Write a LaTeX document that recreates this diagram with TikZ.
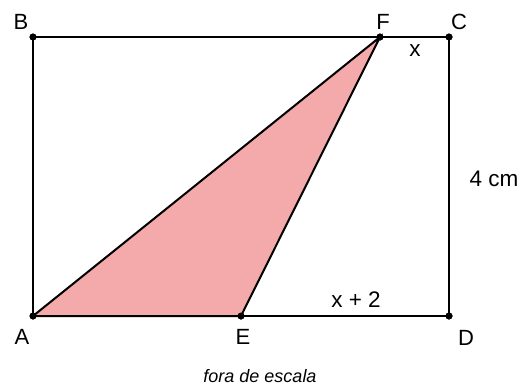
\documentclass[tikz,border=0pt]{standalone}
\usepackage{fontspec}
\setmainfont{Liberation Sans}
\usetikzlibrary{positioning}
\definecolor{trianglecolor}{RGB}{244, 169, 171}
\definecolor{linecolor}{RGB}{0, 0, 0}
\tikzset{
pointdot/.style={
  circle,
  fill=linecolor,
  inner sep=0pt,
  minimum size=7pt
},
pointlabel/.style={
  font=\fontsize{22}{22}\selectfont,
  text=linecolor,
  inner sep=0pt
},
sidelabel/.style={
  font=\fontsize{22.5}{22.5}\selectfont,
  text=linecolor,
  inner sep=0pt
},
rectside/.style={
  draw=linecolor,
  line width=1.6pt
},
triangleside/.style={
  draw=linecolor,
  line width=2pt,
  fill=trianglecolor
}
}
\begin{document}
\begin{tikzpicture}[x=1pt, y=-1pt]
  \useasboundingbox (0,0) rectangle (528,388);

  % Corner points
  \node[pointdot] (A) at (33,316) {};
  \node[pointdot] (B) at (33,37) {};
  \node[pointdot] (C) at (449,37) {};
  \node[pointdot] (D) at (449,316) {};
  \node[pointdot] (E) at (241,316) {};
  \node[pointdot] (F) at (380,37) {};

  % Shaded triangle
  \draw[triangleside] (A.center) -- (E.center) -- (F.center) -- cycle;

  % Rectangle
  \draw[rectside] (A.center) -- (B.center) -- (C.center) -- (D.center) -- (E.center);

  % Dots on top
  \foreach \p in {A,B,C,D,E,F} {
    \fill[linecolor] (\p) circle (3.5pt);
  }

  % Point labels
  \node[pointlabel] (labA) at (22,337) {A};
  \node[pointlabel] (labB) at (21,22) {B};
  \node[pointlabel] (labC) at (459,22) {C};
  \node[pointlabel] (labD) at (466,338) {D};
  \node[pointlabel] (labE) at (243,337) {E};
  \node[pointlabel] (labF) at (383,22) {F};

  % Measures
  \node[sidelabel] (lenx) at (415,51) {x};
  \node[sidelabel] (lenCD) at (494,179) {4 cm};
  \node[sidelabel] (lenED) at (356,300) {x + 2};

  % Note
  \node[font=\fontsize{18}{18}\selectfont\itshape, inner sep=0pt] (note) at (260,376) {fora de escala};
\end{tikzpicture}
\end{document}
